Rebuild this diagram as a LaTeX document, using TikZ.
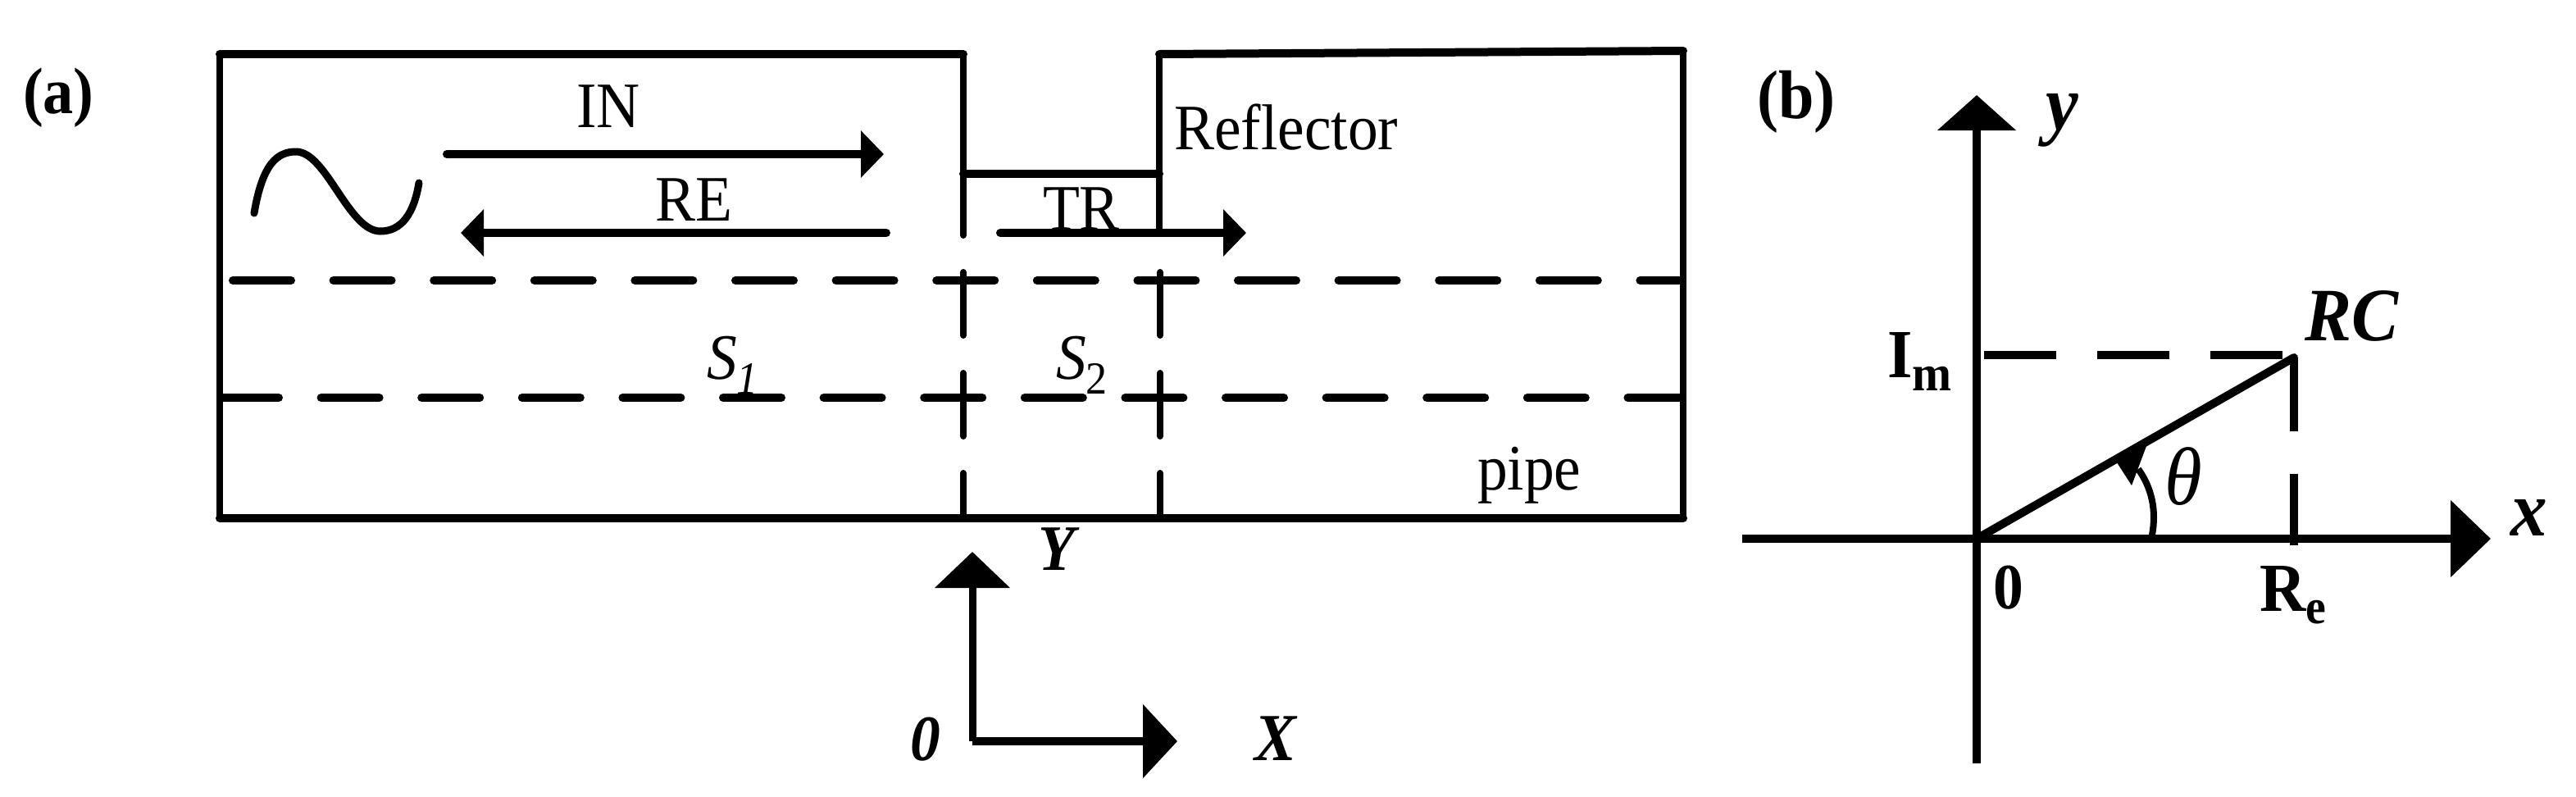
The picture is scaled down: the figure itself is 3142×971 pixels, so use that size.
\documentclass[tikz,border=0pt]{standalone}
\usepackage{fontspec}
\setmainfont{Liberation Serif}[FakeStretch=0.93]
\usetikzlibrary{arrows.meta}
\tikzset{
  wall/.style={line width=4pt,line cap=round,line join=miter},
  thick wall/.style={line width=5pt,line cap=round},
  guide/.style={line width=4pt,line cap=round},
  pipe dash/.style={line width=5pt,line cap=round,dash pattern=on 35.5pt off 25.8pt},
  bigarrow/.style={line width=5pt,line cap=round,-{Triangle[length=14pt,width=28pt]}},
  axis arrow/.style={line width=4.5pt,line cap=butt,-{Triangle[length=22pt,width=45pt]}},
  lbl/.style={inner sep=0pt,outer sep=0pt,anchor=base west,font=\fontsize{39.5}{40}\selectfont},
  ilbl/.style={lbl,font=\fontsize{39.5}{40}\selectfont\itshape},
  bilbl/.style={lbl,font=\fontsize{39.5}{40}\selectfont\bfseries\itshape},
  blbl/.style={lbl,font=\fontsize{39.5}{40}\selectfont\bfseries},
}
\begin{document}
\begin{tikzpicture}[x=0.5pt,y=-0.5pt]
\useasboundingbox (0,0) rectangle (3142,971);
% panel (a) outline
\coordinate (tl) at (268,66);
\coordinate (tm) at (1175,66);
\coordinate (bl) at (268,632);
\coordinate (br) at (2053,632);
\coordinate (tr) at (2053,62);
\coordinate (rt) at (1414,66);
\draw[thick wall] (tl) -- (tm);
\draw[wall] (tl) -- (bl);
\draw[thick wall] (bl) -- (br);
\draw[wall] (br) -- (tr);
\draw[thick wall] (rt) -- (tr);
% neck
\coordinate (n1) at (1175,287);
\coordinate (n2) at (1414,284);
\coordinate (s1) at (1175,212);
\coordinate (s2) at (1414,212);
\draw[wall] (tm) -- (n1);
\draw[wall] (rt) -- (n2);
\draw[thick wall] (s1) -- (s2);
% vertical guides
\foreach \gx in {1175,1415}{
  \draw[guide] (\gx,332) -- (\gx,409);
  \draw[guide] (\gx,455) -- (\gx,532);
  \draw[guide] (\gx,577) -- (\gx,630);
}
% pipe dashes
\coordinate (d1a) at (284,342);
\coordinate (d1b) at (2048,342);
\coordinate (d2a) at (269,485);
\coordinate (d2b) at (2050,485);
\draw[pipe dash] (d1a) -- (d1b);
\draw[pipe dash] (d2a) -- (d2b);
% source
\draw[line width=4.5pt,line cap=round] (310,260) .. controls (320,200) and (338,185) .. (361,185)
  .. controls (398,185) and (425,282) .. (464,282) .. controls (490,282) and (505,260) .. (511,223);
% wave arrows
\coordinate (ina) at (545,188);
\coordinate (inb) at (1078,188);
\coordinate (rea) at (1081,284);
\coordinate (reb) at (562,284);
\coordinate (tra) at (1220,284);
\coordinate (trb) at (1520,284);
\draw[bigarrow] (ina) -- (inb);
\draw[bigarrow] (rea) -- (reb);
\draw[bigarrow] (tra) -- (trb);
% labels (a)
\node[blbl,font=\fontsize{40}{40}\selectfont\bfseries] (la) at (28,138) {(a)};
\node[lbl] (in) at (703,155) {IN};
\node[lbl] (re) at (799,269) {RE};
\node[lbl] (trl) at (1272,280) {TR};
\node[lbl] (refl) at (1432,182) {Reflector};
\node[lbl] (pipe) at (1802,597) {pipe};
\node[ilbl] (sa) at (862,462) {S\raisebox{-0.24em}{\fontsize{28}{28}\selectfont 1}};
\node[ilbl] (sb) at (1288,462) {S\raisebox{-0.24em}{\fontsize{28}{28}\selectfont\upshape 2}};
% XY axes
\coordinate (o) at (1186,904);
\coordinate (oy) at (1186,673);
\coordinate (ox) at (1436,904);
\draw[axis arrow] (o) -- (oy);
\draw[line width=5pt,line cap=square,-{Triangle[length=21pt,width=44pt]}] (o) -- (ox);
\node[bilbl] (yl) at (1266,695) {Y};
\node[bilbl] (zl) at (1110,927) {0};
\node[bilbl,font=\fontsize{41}{41}\selectfont\bfseries\itshape] (xl) at (1530,927) {X};
% panel (b)
\node[blbl,font=\fontsize{42}{42}\selectfont\bfseries] (lb) at (2143,144) {(b)};
\coordinate (O) at (2411,657);
\coordinate (yt) at (2411,116);
\coordinate (yb) at (2411,931);
\coordinate (xl2) at (2125,657);
\coordinate (xr) at (3038,657);
\coordinate (P) at (2798,436);
\coordinate (Py) at (2420,433);
\draw[line width=4.8pt,line cap=butt,-{Triangle[length=21.5pt,width=47pt]}] (yb) -- (yt);
\draw[line width=4.8pt,line cap=butt,-{Triangle[length=24.5pt,width=46pt]}] (xl2) -- (xr);
\draw[line width=5pt,line cap=round] (O) -- (P);
\draw[line width=5pt,dash pattern=on 44pt off 25pt] (Py) -- (2790,433);
\draw[line width=4.8pt] (P) -- (2798,526);
\draw[line width=4.8pt] (2798,578) -- (2798,665);
% angle mark
\coordinate (a0) at (2624,657);
\draw[line width=4pt] (a0) .. controls (2630,630) and (2628,600) .. (2608,572);
\fill (2580,561) -- (2618,544) -- (2600,592) -- cycle;
% labels (b)
\node[bilbl,font=\fontsize{48}{48}\selectfont\bfseries\itshape] (ly) at (2495,158) {y};
\node[bilbl,font=\fontsize{48}{48}\selectfont\bfseries\itshape] (lx) at (3062,653) {x};
\node[bilbl,font=\fontsize{46}{46}\selectfont\bfseries\itshape] (lrc) at (2811,415) {RC};
\node[blbl,font=\fontsize{42}{42}\selectfont\bfseries] (lim) at (2302,460) {I\raisebox{-0.2em}{\fontsize{31}{31}\selectfont\bfseries m}};
\node[blbl,font=\fontsize{42}{42}\selectfont\bfseries] (lre) at (2756,745) {R\raisebox{-0.18em}{\fontsize{30}{30}\selectfont\bfseries e}};
\node[blbl] (lz) at (2431,742) {0};
\node[ilbl,font=\fontsize{50}{50}\selectfont\itshape] (lth) at (2640,615) {θ};
\end{tikzpicture}
\end{document}
